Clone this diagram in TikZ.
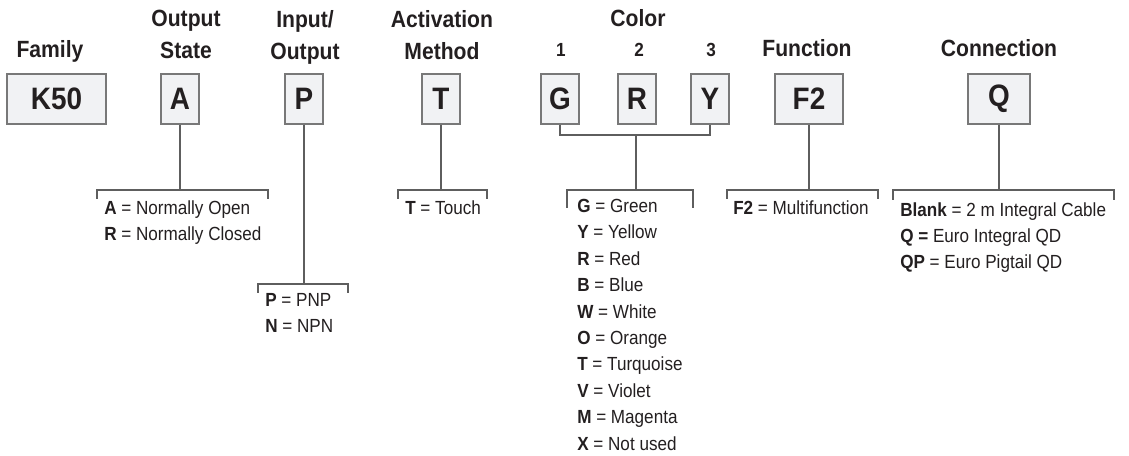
\documentclass[tikz,border=0pt]{standalone}
\usepackage{fontspec}
\setmainfont[FakeStretch=0.9]{Liberation Sans}
\definecolor{ink}{HTML}{231F20}
\definecolor{rule}{HTML}{5E5E5E}
\definecolor{boxfill}{HTML}{F1F2F4}
\definecolor{boxline}{HTML}{787878}
\begin{document}
\begin{tikzpicture}[x=0.75pt,y=-0.75pt,
  heading/.style={anchor=north,align=center,inner sep=0pt,text=ink,font=\fontsize{17.6}{24}\selectfont\bfseries},
  code/.style={draw=boxline,line width=0.9pt,fill=boxfill,minimum height=37.5pt,inner sep=0pt,text=ink,font=\fontsize{23.25}{28}\selectfont\bfseries},
  choices/.style={anchor=north west,align=left,inner sep=0pt,text=ink,font=\fontsize{14.25}{19.8}\selectfont},
  digit/.style={inner sep=0pt,text=ink,font=\fontsize{14.25}{17}\selectfont\bfseries},
  wire/.style={draw=rule,line width=0.9pt}]
\useasboundingbox (0,0) rectangle (1129,456);
\node[heading] (family) at (50,40.5) {Family};
\node[heading] (state) at (186,10) {Output\\State};
\node[heading] (io) at (305,10) {Input/\\Output};
\node[heading] (method) at (442,10) {Activation\\Method};
\node[heading] (color) at (638,9.5) {Color};
\node[digit] (one) at (561,50) {1};
\node[digit] (two) at (639,50) {2};
\node[digit] (three) at (711,50) {3};
\node[heading] (function) at (807,39.5) {Function};
\node[heading] (connection) at (999,39.5) {Connection};
\node[code,minimum width=74.25pt] (K50) at (56.5,99) {K50};
\node[code,minimum width=28.5pt] (A) at (180,99) {A};
\node[code,minimum width=28.5pt] (P) at (304,99) {P};
\node[code,minimum width=28.5pt] (T) at (441,99) {T};
\node[code,minimum width=28.5pt] (G) at (560,99) {G};
\node[code,minimum width=28.5pt] (R) at (637,99) {R};
\node[code,minimum width=28.5pt] (Y) at (710,99) {Y};
\node[code,minimum width=51pt] (F2) at (809,99) {F2};
\node[code,minimum width=46.5pt] (Q) at (999,99) {Q};
\coordinate (stateTop) at (180,190);
\coordinate (ioTop) at (304,284);
\coordinate (methodTop) at (441,190);
\coordinate (colorJoin) at (636,135);
\coordinate (colorTop) at (636,190);
\coordinate (functionTop) at (807,190);
\coordinate (connectionTop) at (1000,190);
\draw[wire] (A.south) -- (A.south |- stateTop);
\draw[wire] (P.south) -- (P.south |- ioTop);
\draw[wire] (T.south) -- (T.south |- methodTop);
\draw[wire] (G.south) |- (colorJoin) -| (Y.south);
\draw[wire] (colorJoin) -- (colorTop);
\draw[wire] (F2.south) -- (F2.south |- functionTop);
\draw[wire] (Q.south) -- (Q.south |- connectionTop);
\draw[wire] (97,199) |- (268,190) -- (268,199);
\draw[wire] (258,293) |- (348,284) -- (348,293);
\draw[wire] (398,199) |- (487,190) -- (487,199);
\draw[wire] (567,208) |- (693,190) -- (693,208);
\draw[wire] (727,199) |- (878,190) -- (878,199);
\draw[wire] (893,200) |- (1114,190) -- (1114,200);
\node[choices] (stateList) at (104,200) {\textbf{A} = Normally Open\\\textbf{R} = Normally Closed};
\node[choices] (ioList) at (265,293) {\textbf{P} = PNP\\\textbf{N} = NPN};
\node[choices] (methodList) at (405,200) {\textbf{T} = Touch};
\node[choices] (colorList) at (577,199) {\textbf{G} = Green\\\textbf{Y} = Yellow\\\textbf{R} = Red\\\textbf{B} = Blue\\\textbf{W} = White\\\textbf{O} = Orange\\\textbf{T} = Turquoise\\\textbf{V} = Violet\\\textbf{M} = Magenta\\\textbf{X} = Not used};
\node[choices] (functionList) at (733,200) {\textbf{F2} = Multifunction};
\node[choices] (connectionList) at (900,202) {\textbf{Blank} = 2 m Integral Cable\\\textbf{Q =} Euro Integral QD\\\textbf{QP} = Euro Pigtail QD};
\end{tikzpicture}
\end{document}
